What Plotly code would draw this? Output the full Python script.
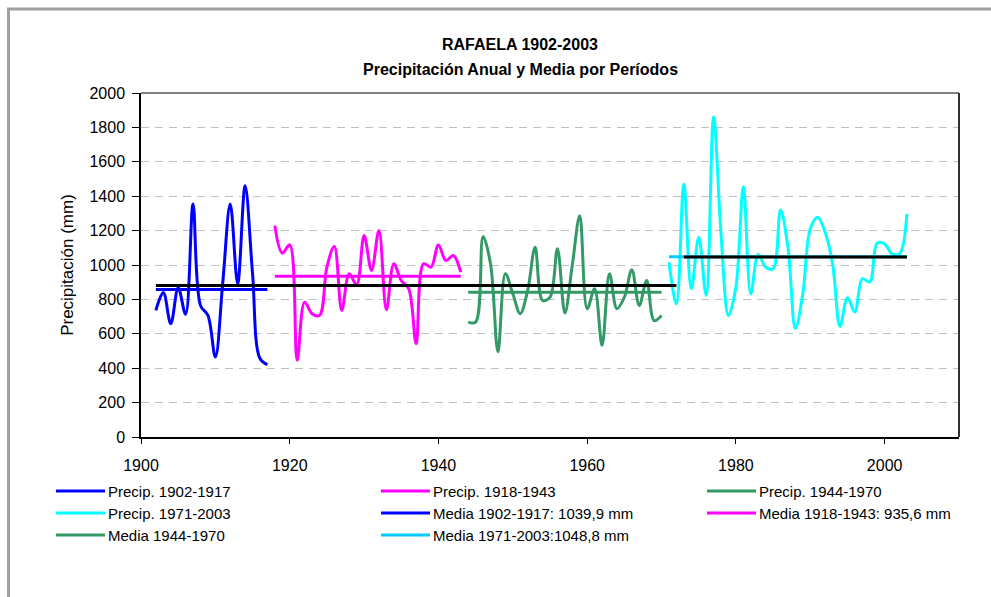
import plotly.graph_objects as go

# ---------------- data ----------------
years_1 = list(range(1902, 1918))
precip_1 = [736, 840, 659, 868, 713, 1355, 765, 707, 465, 900, 1355, 891, 1461, 950, 456, 421]

years_2 = list(range(1918, 1944))
precip_2 = [1229, 1069, 1117, 446, 784, 717, 707, 988, 1107, 736, 949, 885, 1171, 968, 1200,
            740, 1007, 910, 862, 543, 1007, 988, 1117, 1026, 1055, 958]

years_3 = list(range(1944, 1971))
precip_3 = [668, 668, 1165, 1007, 495, 949, 833, 717, 852, 1103, 794, 813, 1094, 721, 1000,
            1287, 746, 862, 533, 949, 746, 813, 972, 765, 910, 677, 707]

years_4 = list(range(1971, 2004))
precip_4 = [1016, 775, 1470, 862, 1161, 823, 1861, 1180, 707, 872, 1455, 833, 1061, 988, 978,
            1320, 1103, 630, 833, 1210, 1277, 1190, 1007, 643, 810, 727, 920, 901, 1127, 1123,
            1065, 1065, 1297]

mean_years_1 = [1902, 1917]
mean_1 = [858, 858]
mean_years_2 = [1918, 1943]
mean_2 = [935, 935]
mean_years_3 = [1944, 1970]
mean_3 = [842, 842]
mean_years_4 = [1971, 2003]
mean_4 = [1048, 1048]

black_years_a = [1902, 1972]
black_a = [881, 881]
black_years_b = [1973, 2003]
black_b = [1047, 1047]

names = ["Precip. 1902-1917", "Precip. 1918-1943", "Precip. 1944-1970", "Precip. 1971-2003",
         "Media 1902-1917: 1039,9 mm", "Media 1918-1943: 935,6 mm", "Media 1944-1970",
         "Media 1971-2003:1048,8 mm"]
colors = ["#0000FF", "#FF00FF", "#339966", "#00FFFF",
          "#0000FF", "#FF00FF", "#339966", "#00CCFF"]

x_ticks = [1900, 1920, 1940, 1960, 1980, 2000]
y_ticks = list(range(0, 2001, 200))

# ---------------- figure ----------------
FONT = "Liberation Sans, Arial, sans-serif"
fig = go.Figure()

def line(x, y, name, color, spline=True):
    fig.add_trace(go.Scatter(
        x=x, y=y, name=name, mode="lines",
        line=dict(color=color, width=3, shape="spline" if spline else "linear", smoothing=1.0),
        showlegend=False, hoverinfo="x+y"))

line(years_1, precip_1, names[0], colors[0])
line(years_2, precip_2, names[1], colors[1])
line(years_3, precip_3, names[2], colors[2])
line(years_4, precip_4, names[3], colors[3])
line(mean_years_1, mean_1, names[4], colors[4], spline=False)
line(mean_years_2, mean_2, names[5], colors[5], spline=False)
line(mean_years_3, mean_3, names[6], colors[6], spline=False)
line(mean_years_4, mean_4, names[7], colors[7], spline=False)
line(black_years_a, black_a, "", "#000000", spline=False)
line(black_years_b, black_b, "", "#000000", spline=False)

L, R, T, B = 141, 32, 93, 160
W, H = 991, 597
pw, ph = W - L - R, H - T - B

def px(xp):
    return (xp - L) / pw

def py(yp):
    return (H - B - yp) / ph

shapes = [
    dict(type="line", xref="paper", yref="paper", x0=0, x1=1, y0=1, y1=1,
         line=dict(color="#808080", width=2)),
    dict(type="line", xref="paper", yref="paper", x0=1, x1=1, y0=0, y1=1,
         line=dict(color="#303030", width=2)),
    dict(type="rect", xref="paper", yref="paper", x0=px(8.5), x1=px(1000), y0=py(1000), y1=py(9),
         line=dict(color="#A0A0A0", width=3), layer="below"),
]
annotations = [
    dict(text="<b>RAFAELA 1902-2003</b>", x=px(520), y=py(45), xref="paper", yref="paper",
         showarrow=False, xanchor="center", yanchor="middle", font=dict(size=16)),
    dict(text="<b>Precipitación Anual y Media por Períodos</b>", x=px(520), y=py(69),
         xref="paper", yref="paper", showarrow=False, xanchor="center", yanchor="middle",
         font=dict(size=16)),
]

# legend (3 columns) drawn in paper space
col_x = [56, 381, 707]
row_y = [491, 513, 535]
for i, (nm, c) in enumerate(zip(names, colors)):
    cx = col_x[i % 3]
    ry = row_y[i // 3]
    shapes.append(dict(type="line", xref="paper", yref="paper", x0=px(cx), x1=px(cx + 49),
                       y0=py(ry), y1=py(ry), line=dict(color=c, width=3)))
    annotations.append(dict(text=nm, x=px(cx + 51), y=py(ry), xref="paper", yref="paper",
                            showarrow=False, xanchor="left", yanchor="middle",
                            font=dict(size=15), borderpad=0))

fig.update_layout(
    width=W, height=H,
    margin=dict(l=L, r=R, t=T, b=B, pad=0),
    paper_bgcolor="white", plot_bgcolor="white",
    font=dict(family=FONT, color="black", size=16),
    showlegend=False,
    xaxis=dict(range=[1900, 2010], tickvals=x_ticks, ticks="outside", ticklen=5,
               tickcolor="black", tickwidth=1, showline=True, linecolor="black", linewidth=2,
               showgrid=False, zeroline=False, tickfont=dict(size=16), ticklabelstandoff=8),
    yaxis=dict(range=[0, 2000], tickvals=y_ticks, ticks="outside", ticklen=7,
               tickcolor="black", tickwidth=1, showline=True, linecolor="black", linewidth=1.5,
               showgrid=True, gridcolor="#C0C0C0", griddash="8px,6px", gridwidth=1,
               zeroline=False, tickfont=dict(size=16), ticklabelstandoff=4,
               title=dict(text="Precipitación (mm)", font=dict(size=17), standoff=12)),
    annotations=annotations,
    shapes=shapes,
)

fig.write_html("out.html")
